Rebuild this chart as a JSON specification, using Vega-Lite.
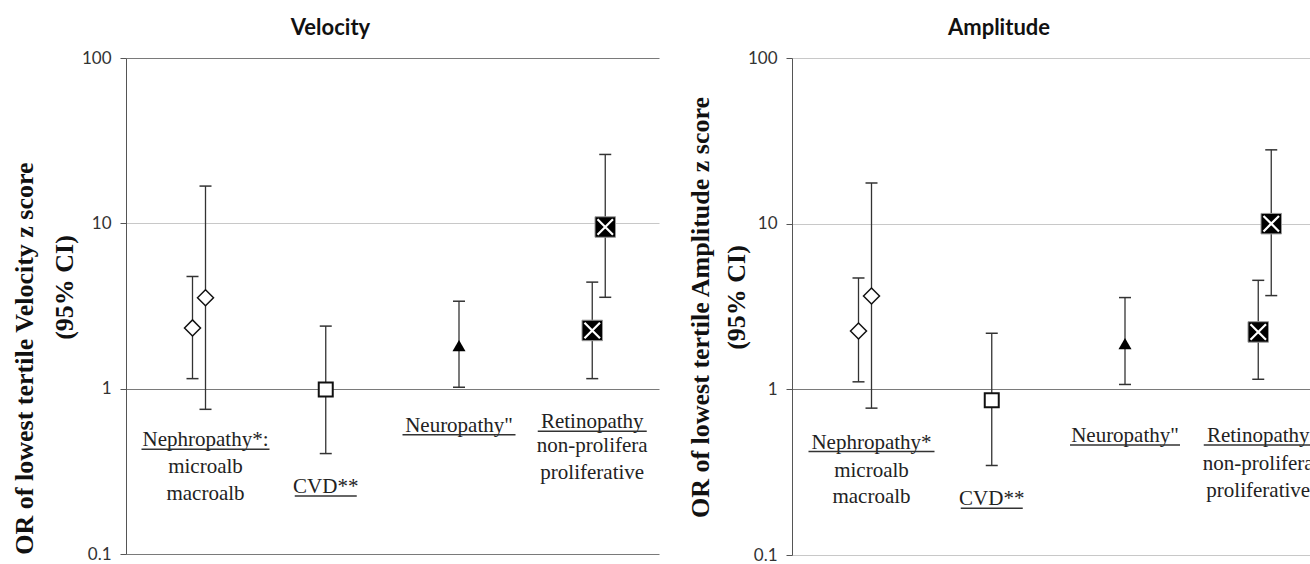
{
  "$schema": "https://vega.github.io/schema/vega-lite/v6.json",
  "padding": {"left": 11, "top": 17, "right": 0, "bottom": 0},
  "bounds": "flush",
  "spacing": 133,
  "background": "white",
  "config": {
    "view": {"stroke": null},
    "axisY": {
      "labelFont": "Lato", "labelFontSize": 17, "labelColor": "#333", "labelPadding": 9,
      "tickSize": 6, "tickColor": "#555", "domainColor": "#555",
      "titleFont": "Liberation Serif", "titleFontSize": 26, "titleFontWeight": "bold", "titleColor": "#111",
      "titleAngle": 270, "titleAlign": "center", "titleBaseline": "top"
    },
    "title": {"font": "Lato", "fontSize": 22, "fontWeight": "bold", "color": "#111", "offset": 9},
    "tick": {"orient": "horizontal", "thickness": 1.5, "color": "#333", "opacity": 1}
  },
  "datasets": {
    "vel": [
      {"group": "Nephropathy", "sub": "a", "series": "microalb", "or": 2.33, "lo": 1.15, "hi": 4.77},
      {"group": "Nephropathy", "sub": "b", "series": "macroalb", "or": 3.55, "lo": 0.75, "hi": 16.8},
      {"group": "CVD", "sub": "a", "series": "CVD", "or": 0.99, "lo": 0.405, "hi": 2.39},
      {"group": "Neuropathy", "sub": "a", "series": "Neuropathy", "or": 1.82, "lo": 1.02, "hi": 3.38},
      {"group": "Retinopathy", "sub": "a", "series": "non-proliferative", "or": 2.25, "lo": 1.15, "hi": 4.41},
      {"group": "Retinopathy", "sub": "b", "series": "proliferative", "or": 9.5, "lo": 3.57, "hi": 26.1}
    ],
    "amp": [
      {"group": "Nephropathy", "sub": "a", "series": "microalb", "or": 2.25, "lo": 1.11, "hi": 4.7},
      {"group": "Nephropathy", "sub": "b", "series": "macroalb", "or": 3.66, "lo": 0.77, "hi": 17.6},
      {"group": "CVD", "sub": "a", "series": "CVD", "or": 0.86, "lo": 0.347, "hi": 2.18},
      {"group": "Neuropathy", "sub": "a", "series": "Neuropathy", "or": 1.89, "lo": 1.07, "hi": 3.58},
      {"group": "Retinopathy", "sub": "a", "series": "non-proliferative", "or": 2.22, "lo": 1.15, "hi": 4.55},
      {"group": "Retinopathy", "sub": "b", "series": "proliferative", "or": 10.0, "lo": 3.68, "hi": 27.9}
    ],
    "velLab": [
      {"group": "Nephropathy", "sub": "b", "text": "Nephropathy*:", "y": 0.487, "head": true},
      {"group": "Nephropathy", "sub": "b", "text": "microalb", "y": 0.336, "head": false},
      {"group": "Nephropathy", "sub": "b", "text": "macroalb", "y": 0.232, "head": false},
      {"group": "CVD", "sub": "a", "text": "CVD**", "y": 0.254, "head": true},
      {"group": "Neuropathy", "sub": "a", "text": "Neuropathy\"", "y": 0.596, "head": true},
      {"group": "Retinopathy", "sub": "a", "text": "Retinopathy", "y": 0.626, "head": true},
      {"group": "Retinopathy", "sub": "a", "text": "non-prolifera", "y": 0.448, "head": false},
      {"group": "Retinopathy", "sub": "a", "text": "proliferative", "y": 0.3076, "head": false}
    ],
    "ampLab": [
      {"group": "Nephropathy", "sub": "b", "text": "Nephropathy*", "y": 0.477, "head": true},
      {"group": "Nephropathy", "sub": "b", "text": "microalb", "y": 0.3218, "head": false},
      {"group": "Nephropathy", "sub": "b", "text": "macroalb", "y": 0.2226, "head": false},
      {"group": "CVD", "sub": "a", "text": "CVD**", "y": 0.2174, "head": true},
      {"group": "Neuropathy", "sub": "a", "text": "Neuropathy\"", "y": 0.5228, "head": true},
      {"group": "Retinopathy", "sub": "a", "text": "Retinopathy", "y": 0.5228, "head": true},
      {"group": "Retinopathy", "sub": "a", "text": "non-prolifera", "y": 0.3531, "head": false},
      {"group": "Retinopathy", "sub": "a", "text": "proliferative", "y": 0.2438, "head": false}
    ]
  },
  "hconcat": [
    {
      "width": 533,
      "height": 496,
      "title": {"text": "Velocity", "dx": -62},
      "resolve": {"scale": {"y": "independent"}},
      "layer": [
        {
          "layer": [
            {
              "data": {"name": "vel"},
              "mark": {"type": "rule", "color": "#333", "strokeWidth": 1.3},
              "encoding": {
                "x": {"field": "group", "type": "nominal", "scale": {"domain": ["Nephropathy", "CVD", "Neuropathy", "Retinopathy"], "paddingInner": 0, "paddingOuter": 0}, "axis": null},
                "xOffset": {"field": "sub", "type": "nominal", "scale": {"domain": ["a", "b"], "range": [60, 86], "paddingInner": 0, "paddingOuter": 0}},
                "y": {
                  "field": "lo", "type": "quantitative",
                  "scale": {"type": "log", "domain": [0.1, 100], "nice": false},
                  "axis": {
                    "orient": "left",
                    "values": [0.1, 1, 10, 100], "format": "~g", "grid": true, "gridWidth": 1.2,
                    "gridColor": {"condition": {"test": "datum.value == 10", "value": "#c8c8c8"}, "value": "#7a7a7a"},
                    "title": "OR of lowest tertile Velocity z score",
                    "titleX": -115, "titleY": 300
                  }
                },
                "y2": {"field": "hi"}
              }
            },
            {
              "data": {"name": "vel"},
              "mark": {"type": "tick", "size": 12},
              "encoding": {"x": {"field": "group", "type": "nominal"}, "xOffset": {"field": "sub", "type": "nominal"}, "y": {"field": "lo", "type": "quantitative"}}
            },
            {
              "data": {"name": "vel"},
              "mark": {"type": "tick", "size": 12},
              "encoding": {"x": {"field": "group", "type": "nominal"}, "xOffset": {"field": "sub", "type": "nominal"}, "y": {"field": "hi", "type": "quantitative"}}
            },
            {
              "data": {"name": "vel"},
              "transform": [{"filter": "datum.group == 'Nephropathy'"}],
              "mark": {"type": "point", "shape": "diamond", "size": 256, "filled": true, "fill": "white", "stroke": "#111", "strokeWidth": 1.5, "opacity": 1},
              "encoding": {"x": {"field": "group", "type": "nominal"}, "xOffset": {"field": "sub", "type": "nominal"}, "y": {"field": "or", "type": "quantitative"}}
            },
            {
              "data": {"name": "vel"},
              "transform": [{"filter": "datum.group == 'CVD'"}],
              "mark": {"type": "point", "shape": "square", "size": 196, "filled": true, "fill": "white", "stroke": "#111", "strokeWidth": 2, "opacity": 1},
              "encoding": {"x": {"field": "group", "type": "nominal"}, "xOffset": {"field": "sub", "type": "nominal"}, "y": {"field": "or", "type": "quantitative"}}
            },
            {
              "data": {"name": "vel"},
              "transform": [{"filter": "datum.group == 'Neuropathy'"}],
              "mark": {"type": "point", "shape": "triangle-up", "size": 170, "filled": true, "fill": "black", "strokeWidth": 0, "opacity": 1},
              "encoding": {"x": {"field": "group", "type": "nominal"}, "xOffset": {"field": "sub", "type": "nominal"}, "y": {"field": "or", "type": "quantitative"}}
            },
            {
              "data": {"name": "vel"},
              "transform": [{"filter": "datum.group == 'Retinopathy'"}],
              "mark": {"type": "point", "shape": "square", "size": 420, "filled": true, "fill": "black", "stroke": "#999", "strokeWidth": 1, "opacity": 1},
              "encoding": {"x": {"field": "group", "type": "nominal"}, "xOffset": {"field": "sub", "type": "nominal"}, "y": {"field": "or", "type": "quantitative"}}
            },
            {
              "data": {"name": "vel"},
              "transform": [{"filter": "datum.group == 'Retinopathy'"}],
              "mark": {"type": "point", "shape": "M-1,-1L1,1M-1,1L1,-1", "size": 240, "filled": false, "stroke": "white", "strokeWidth": 2.2, "opacity": 1},
              "encoding": {"x": {"field": "group", "type": "nominal"}, "xOffset": {"field": "sub", "type": "nominal"}, "y": {"field": "or", "type": "quantitative"}}
            },
            {
              "data": {"name": "velLab"},
              "mark": {"type": "text", "font": "Liberation Serif", "fontSize": 21, "color": "#222", "baseline": "middle", "align": "center"},
              "encoding": {"x": {"field": "group", "type": "nominal"}, "xOffset": {"field": "sub", "type": "nominal"}, "y": {"field": "y", "type": "quantitative"}, "text": {"field": "text"}}
            },
            {
              "data": {"name": "velLab"},
              "transform": [{"filter": "datum.head && datum.group == 'Nephropathy'"}],
              "mark": {"type": "tick", "size": 128, "yOffset": 9},
              "encoding": {"x": {"field": "group", "type": "nominal"}, "xOffset": {"field": "sub", "type": "nominal"}, "y": {"field": "y", "type": "quantitative"}}
            },
            {
              "data": {"name": "velLab"},
              "transform": [{"filter": "datum.head && datum.group == 'CVD'"}],
              "mark": {"type": "tick", "size": 62, "yOffset": 9},
              "encoding": {"x": {"field": "group", "type": "nominal"}, "xOffset": {"field": "sub", "type": "nominal"}, "y": {"field": "y", "type": "quantitative"}}
            },
            {
              "data": {"name": "velLab"},
              "transform": [{"filter": "datum.head && datum.group == 'Neuropathy'"}],
              "mark": {"type": "tick", "size": 113, "yOffset": 9},
              "encoding": {"x": {"field": "group", "type": "nominal"}, "xOffset": {"field": "sub", "type": "nominal"}, "y": {"field": "y", "type": "quantitative"}}
            },
            {
              "data": {"name": "velLab"},
              "transform": [{"filter": "datum.head && datum.group == 'Retinopathy'"}],
              "mark": {"type": "tick", "size": 109, "yOffset": 9},
              "encoding": {"x": {"field": "group", "type": "nominal"}, "xOffset": {"field": "sub", "type": "nominal"}, "y": {"field": "y", "type": "quantitative"}}
            }
          ]
        },
        {
          "data": {"name": "vel"},
          "mark": {"type": "point", "opacity": 0},
          "encoding": {
            "y": {
              "field": "or", "type": "quantitative",
              "scale": {"type": "log", "domain": [0.1, 100], "nice": false},
              "axis": {"orient": "left", "title": "(95% CI)", "titleX": -75, "titleY": 229, "labels": false, "ticks": false, "domain": false, "grid": false}
            }
          }
        }
      ]
    },
    {
      "width": 520,
      "height": 497,
      "title": {"text": "Amplitude", "dx": -53},
      "resolve": {"scale": {"y": "independent"}},
      "layer": [
        {
          "layer": [
            {
              "data": {"name": "amp"},
              "mark": {"type": "rule", "color": "#333", "strokeWidth": 1.3},
              "encoding": {
                "x": {"field": "group", "type": "nominal", "scale": {"domain": ["Nephropathy", "CVD", "Neuropathy", "Retinopathy"], "range": [0, 533], "paddingInner": 0, "paddingOuter": 0}, "axis": null},
                "xOffset": {"field": "sub", "type": "nominal", "scale": {"domain": ["a", "b"], "range": [60, 86], "paddingInner": 0, "paddingOuter": 0}},
                "y": {
                  "field": "lo", "type": "quantitative",
                  "scale": {"type": "log", "domain": [0.1, 100], "nice": false},
                  "axis": {
                    "orient": "left",
                    "values": [0.1, 1, 10, 100], "format": "~g", "grid": true, "gridWidth": 1.2,
                    "gridColor": {"condition": {"test": "datum.value == 1", "value": "#7a7a7a"}, "value": "#c8c8c8"},
                    "title": "OR of lowest tertile Amplitude z score",
                    "titleX": -105, "titleY": 249
                  }
                },
                "y2": {"field": "hi"}
              }
            },
            {
              "data": {"name": "amp"},
              "mark": {"type": "tick", "size": 12},
              "encoding": {"x": {"field": "group", "type": "nominal"}, "xOffset": {"field": "sub", "type": "nominal"}, "y": {"field": "lo", "type": "quantitative"}}
            },
            {
              "data": {"name": "amp"},
              "mark": {"type": "tick", "size": 12},
              "encoding": {"x": {"field": "group", "type": "nominal"}, "xOffset": {"field": "sub", "type": "nominal"}, "y": {"field": "hi", "type": "quantitative"}}
            },
            {
              "data": {"name": "amp"},
              "transform": [{"filter": "datum.group == 'Nephropathy'"}],
              "mark": {"type": "point", "shape": "diamond", "size": 256, "filled": true, "fill": "white", "stroke": "#111", "strokeWidth": 1.5, "opacity": 1},
              "encoding": {"x": {"field": "group", "type": "nominal"}, "xOffset": {"field": "sub", "type": "nominal"}, "y": {"field": "or", "type": "quantitative"}}
            },
            {
              "data": {"name": "amp"},
              "transform": [{"filter": "datum.group == 'CVD'"}],
              "mark": {"type": "point", "shape": "square", "size": 196, "filled": true, "fill": "white", "stroke": "#111", "strokeWidth": 2, "opacity": 1},
              "encoding": {"x": {"field": "group", "type": "nominal"}, "xOffset": {"field": "sub", "type": "nominal"}, "y": {"field": "or", "type": "quantitative"}}
            },
            {
              "data": {"name": "amp"},
              "transform": [{"filter": "datum.group == 'Neuropathy'"}],
              "mark": {"type": "point", "shape": "triangle-up", "size": 170, "filled": true, "fill": "black", "strokeWidth": 0, "opacity": 1},
              "encoding": {"x": {"field": "group", "type": "nominal"}, "xOffset": {"field": "sub", "type": "nominal"}, "y": {"field": "or", "type": "quantitative"}}
            },
            {
              "data": {"name": "amp"},
              "transform": [{"filter": "datum.group == 'Retinopathy'"}],
              "mark": {"type": "point", "shape": "square", "size": 420, "filled": true, "fill": "black", "stroke": "#999", "strokeWidth": 1, "opacity": 1},
              "encoding": {"x": {"field": "group", "type": "nominal"}, "xOffset": {"field": "sub", "type": "nominal"}, "y": {"field": "or", "type": "quantitative"}}
            },
            {
              "data": {"name": "amp"},
              "transform": [{"filter": "datum.group == 'Retinopathy'"}],
              "mark": {"type": "point", "shape": "M-1,-1L1,1M-1,1L1,-1", "size": 240, "filled": false, "stroke": "white", "strokeWidth": 2.2, "opacity": 1},
              "encoding": {"x": {"field": "group", "type": "nominal"}, "xOffset": {"field": "sub", "type": "nominal"}, "y": {"field": "or", "type": "quantitative"}}
            },
            {
              "data": {"name": "ampLab"},
              "mark": {"type": "text", "font": "Liberation Serif", "fontSize": 21, "color": "#222", "baseline": "middle", "align": "center", "clip": true},
              "encoding": {"x": {"field": "group", "type": "nominal"}, "xOffset": {"field": "sub", "type": "nominal"}, "y": {"field": "y", "type": "quantitative"}, "text": {"field": "text"}}
            },
            {
              "data": {"name": "ampLab"},
              "transform": [{"filter": "datum.head && datum.group == 'Nephropathy'"}],
              "mark": {"type": "tick", "size": 126, "yOffset": 9},
              "encoding": {"x": {"field": "group", "type": "nominal"}, "xOffset": {"field": "sub", "type": "nominal"}, "y": {"field": "y", "type": "quantitative"}}
            },
            {
              "data": {"name": "ampLab"},
              "transform": [{"filter": "datum.head && datum.group == 'CVD'"}],
              "mark": {"type": "tick", "size": 62, "yOffset": 9},
              "encoding": {"x": {"field": "group", "type": "nominal"}, "xOffset": {"field": "sub", "type": "nominal"}, "y": {"field": "y", "type": "quantitative"}}
            },
            {
              "data": {"name": "ampLab"},
              "transform": [{"filter": "datum.head && datum.group == 'Neuropathy'"}],
              "mark": {"type": "tick", "size": 110, "yOffset": 9},
              "encoding": {"x": {"field": "group", "type": "nominal"}, "xOffset": {"field": "sub", "type": "nominal"}, "y": {"field": "y", "type": "quantitative"}}
            },
            {
              "data": {"name": "ampLab"},
              "transform": [{"filter": "datum.head && datum.group == 'Retinopathy'"}],
              "mark": {"type": "tick", "size": 109, "yOffset": 9, "clip": true},
              "encoding": {"x": {"field": "group", "type": "nominal"}, "xOffset": {"field": "sub", "type": "nominal"}, "y": {"field": "y", "type": "quantitative"}}
            }
          ]
        },
        {
          "data": {"name": "amp"},
          "mark": {"type": "point", "opacity": 0},
          "encoding": {
            "y": {
              "field": "or", "type": "quantitative",
              "scale": {"type": "log", "domain": [0.1, 100], "nice": false},
              "axis": {"orient": "left", "title": "(95% CI)", "titleX": -69, "titleY": 239, "labels": false, "ticks": false, "domain": false, "grid": false}
            }
          }
        }
      ]
    }
  ]
}
